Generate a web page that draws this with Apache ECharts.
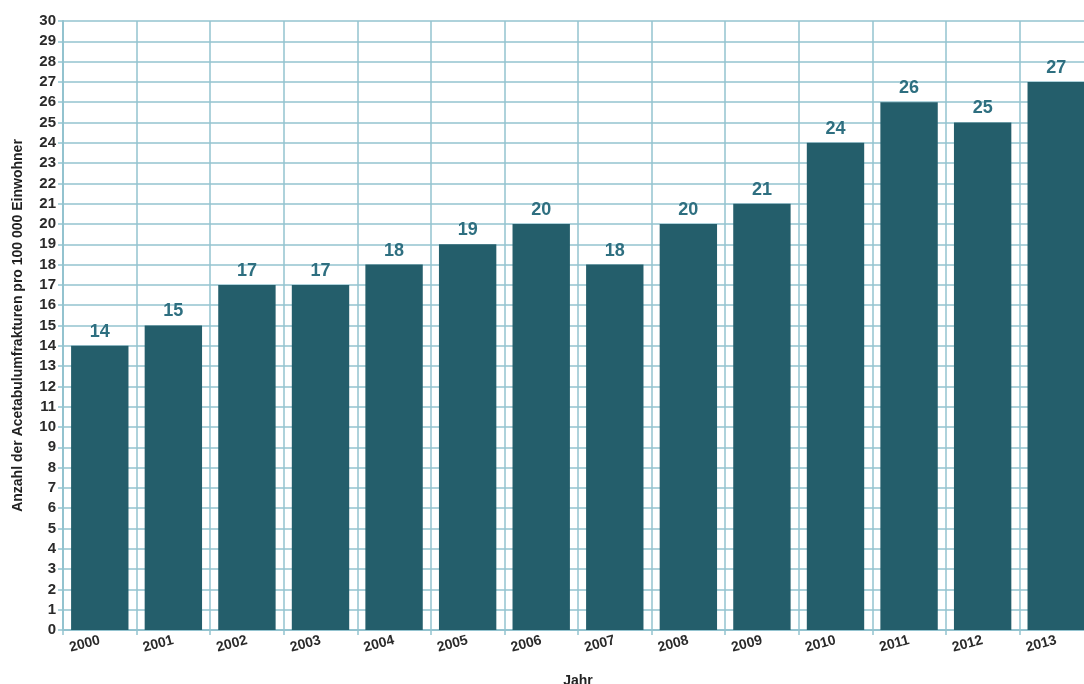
<!DOCTYPE html>
<html>
<head>
<meta charset="utf-8">
<script src="https://cdn.jsdelivr.net/npm/echarts@6/dist/echarts.min.js"></script>
<style>
  html, body { margin: 0; padding: 0; background: #ffffff; }
  #chart { width: 1084px; height: 684px; }
</style>
</head>
<body>
<div id="chart"></div>
<script>
// Acetabulum fractures per 100,000 inhabitants, by year
const years = ['2000', '2001', '2002', '2003', '2004', '2005', '2006', '2007', '2008', '2009', '2010', '2011', '2012', '2013'];
const fractures = [14, 15, 17, 17, 18, 19, 20, 18, 20, 21, 24, 26, 25, 27];

const gridColor = '#93c3cf';
const chart = echarts.init(document.getElementById('chart'), null, { renderer: 'canvas' });

chart.setOption({
  backgroundColor: '#ffffff',
  animation: false,
  grid: { left: 63, top: 21, width: 1030, height: 609, containLabel: false, outerBoundsMode: 'none' },
  xAxis: {
    type: 'category',
    data: years,
    name: 'Jahr',
    nameLocation: 'middle',
    nameGap: 44,
    nameTextStyle: { color: '#222', fontSize: 14, fontFamily: 'Liberation Sans, Arial, sans-serif', fontWeight: 'bold' },
    axisLine: { show: true, lineStyle: { color: gridColor, width: 2 } },
    axisTick: { show: true, alignWithLabel: false, length: 5, lineStyle: { color: gridColor, width: 1.5 } },
    splitLine: { show: true, lineStyle: { color: gridColor, width: 1.5 } },
    axisLabel: {
      rotate: 15,
      margin: 10,
      color: '#2a2a2a',
      fontSize: 14,
      fontWeight: 'bold',
      fontFamily: 'Liberation Sans, Arial, sans-serif'
    }
  },
  yAxis: {
    type: 'value',
    min: 0,
    max: 30,
    interval: 1,
    name: 'Anzahl der Acetabulumfrakturen pro 100 000 Einwohner',
    nameLocation: 'middle',
    nameGap: 38,
    nameRotate: 90,
    nameTextStyle: { color: '#222', fontSize: 14, fontFamily: 'Liberation Sans, Arial, sans-serif', fontWeight: 'bold' },
    axisLine: { show: true, lineStyle: { color: gridColor, width: 2 } },
    axisTick: { show: true, length: 5, lineStyle: { color: gridColor, width: 1.5 } },
    splitLine: { show: true, lineStyle: { color: gridColor, width: 1.5 } },
    axisLabel: {
      margin: 7,
      color: '#2a2a2a',
      fontSize: 15,
      fontWeight: 'bold',
      fontFamily: 'Liberation Sans, Arial, sans-serif'
    }
  },
  series: [{
    type: 'bar',
    data: fractures,
    barCategoryGap: '22%',
    itemStyle: { color: '#245e6b' },
    label: {
      show: true,
      position: 'top',
      distance: 5,
      color: '#2e6f80',
      fontSize: 18,
      fontWeight: 'bold',
      fontFamily: 'Liberation Sans, Arial, sans-serif'
    }
  }]
});
</script>
</body>
</html>
